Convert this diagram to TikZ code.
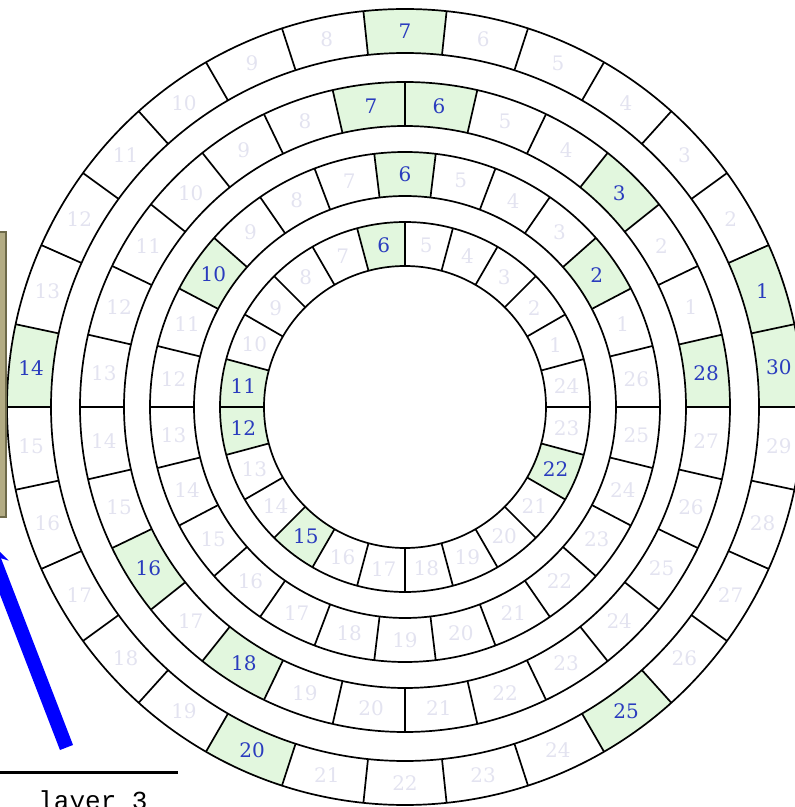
\documentclass[tikz,border=0pt]{standalone}
\usepackage{fontspec}
\setmainfont{DejaVu Serif}
\newfontfamily\monofont{Liberation Mono}
\usetikzlibrary{arrows.meta}
\definecolor{hlfill}{HTML}{E2F7DE}
\definecolor{hltext}{HTML}{2A3CBE}
\definecolor{dimtext}{HTML}{E3E3F0}
\definecolor{khaki}{HTML}{B3AC84}
\definecolor{khakiedge}{HTML}{6E6A4A}
\makeatletter
\newcommand\ifinlist[4]{\edef\my@tmp{\noexpand\in@{,#1,}{#2}}\my@tmp\ifin@#3\else#4\fi}
\makeatother
\def\hlA{,6,11,12,15,22,}
\def\hlB{,2,6,10,}
\def\hlC{,3,6,7,16,18,28,}
\def\hlD{,1,7,14,20,25,30,}
\tikzset{
  ringline/.style={line width=1.7pt, black},
  seglabel/.style={font=\fontsize{20}{24}\selectfont, inner sep=0pt},
}
\begin{document}
\begin{tikzpicture}[x=1pt,y=1pt]
\useasboundingbox (0,0) rectangle (795,807);
\begin{scope}
\clip (0,0) rectangle (795,807);
\begin{scope}[shift={(405,400)}]
\foreach \N/\ri/\ro/\hl in {24/141/185/\hlA,26/211/255/\hlB,28/281/325/\hlC,30/354/398/\hlD}{
  \pgfmathsetmacro\dd{360/\N}
  \pgfmathsetmacro\rmid{(\ri+\ro)/2}
  \foreach \k in {1,...,\N}{
    \pgfmathsetmacro\angA{\k*\dd}
    \pgfmathsetmacro\angB{\k*\dd+\dd}
    \pgfmathsetmacro\angM{\k*\dd+\dd/2}
    \ifinlist{\k}{\hl}{%
      \fill[hlfill] (\angA:\ri) arc[start angle=\angA,end angle=\angB,radius=\ri] -- (\angB:\ro) arc[start angle=\angB,end angle=\angA,radius=\ro] -- cycle;
      \node[seglabel,text=hltext] (c\N-\k) at (\angM:\rmid) {\k};
    }{%
      \node[seglabel,text=dimtext] (c\N-\k) at (\angM:\rmid) {\k};
    }
  }
  \foreach \k in {1,...,\N}{
    \pgfmathsetmacro\angA{\k*\dd}
    \draw[ringline] (\angA:\ri) -- (\angA:\ro);
  }
  \draw[ringline] (0,0) circle[radius=\ri];
  \draw[ringline] (0,0) circle[radius=\ro];
}
\end{scope}
\draw[fill=khaki, draw=khakiedge, line width=1.5pt] (-10,290) rectangle (6,575);
\coordinate (arrS) at (66.5,59.5);
\coordinate (arrE) at (-14.7,270);
\draw[blue, line width=14pt, -{Stealth[length=30pt, width=26pt, inset=10pt]}] (arrS) -- (arrE);
\coordinate (lineL) at (-5,34);
\coordinate (lineR) at (178,34);
\draw[line width=3pt] (lineL) -- (lineR);
\node[anchor=base, inner sep=0pt, font=\monofont\fontsize{26}{30}\selectfont] (cap) at (93,-2) {layer 3};
\end{scope}
\end{tikzpicture}
\end{document}
